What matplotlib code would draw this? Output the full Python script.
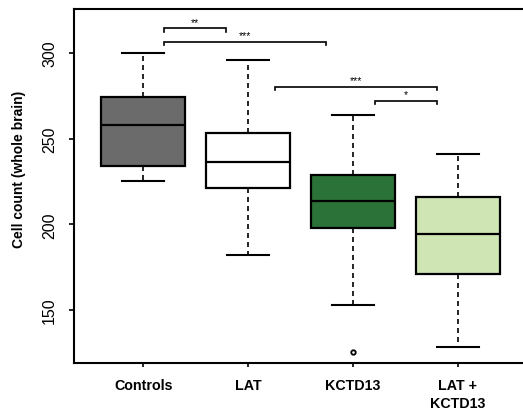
import numpy as np
import matplotlib
matplotlib.use("Agg")
import matplotlib.pyplot as plt

plt.rcParams['font.family'] = ['Liberation Sans', 'DejaVu Sans']

# groups and box statistics (cell counts, whole brain)
groups = ['Controls', 'LAT', 'KCTD13', 'LAT +\nKCTD13']
q1 = [233.9, 221.2, 197.7, 171.1]
med = [258.0, 236.6, 213.8, 194.4]
q3 = [274.5, 253.1, 229.0, 216.0]
whislo = [225.1, 182.3, 153.0, 128.2]
whishi = [300.0, 295.9, 264.0, 241.1]
outliers = [[], [], [125.7], []]
colors = ['#6b6b6b', '#ffffff', '#2b7239', '#d0e5b4']

# significance brackets: (left x, right x, height, label)
brackets = [
    (1.20, 1.79, 314.4, '**'),
    (1.20, 2.74, 306.6, '***'),
    (2.26, 3.80, 280.3, '***'),
    (3.21, 3.80, 272.2, '*'),
]

stats = []
for i in range(len(groups)):
    stats.append(dict(med=med[i], q1=q1[i], q3=q3[i],
                      whislo=whislo[i], whishi=whishi[i],
                      fliers=outliers[i]))

fig = plt.figure(figsize=(5.23, 4.10), dpi=100)
ax = fig.add_axes([74 / 523, 46 / 410, 453.2 / 523, 354 / 410])

pos = np.arange(1, len(groups) + 1)
bp = ax.bxp(stats, positions=pos, widths=0.8, capwidths=0.4,
            patch_artist=True, showfliers=True,
            boxprops=dict(linewidth=1.6, edgecolor='black'),
            medianprops=dict(linewidth=1.6, color='black'),
            whiskerprops=dict(linewidth=1.2, color='black',
                              linestyle=(0, (3.0, 2.4))),
            capprops=dict(linewidth=1.5, color='black'),
            flierprops=dict(marker='o', markersize=3.2,
                            markerfacecolor='white',
                            markeredgecolor='black',
                            markeredgewidth=1.3))
for patch, c in zip(bp['boxes'], colors):
    patch.set_facecolor(c)

for x1, x2, y, lab in brackets:
    h = 1.9
    ax.plot([x1, x1, x2, x2], [y - h, y, y, y - h], color='black',
            linewidth=1.2, solid_joinstyle='miter')
    ax.text((x1 + x2) / 2, y + 1.0, lab, ha='center', va='bottom',
            fontsize=7.5)

ax.set_xlim(0.34, 4.66)
ax.set_ylim(119.1, 325.7)

ax.set_yticks([150, 200, 250, 300])
ax.set_xticks(pos)
ax.set_xticklabels(groups, fontweight='bold', fontsize=10.3,
                   linespacing=1.35)
for t in ax.get_yticklabels():
    t.set_rotation(90)
    t.set_va('center')
    t.set_fontsize(11.5)

ax.tick_params(axis='y', length=3.6, width=1.2, pad=8.5)
ax.tick_params(axis='x', length=3.0, width=1.2, pad=8)

for s in ax.spines.values():
    s.set_linewidth(1.5)

ax.set_ylabel('Cell count (whole brain)', fontweight='bold', fontsize=10)
ax.yaxis.set_label_coords(-0.106, 0.55)

fig.savefig('out.png', dpi=100)
